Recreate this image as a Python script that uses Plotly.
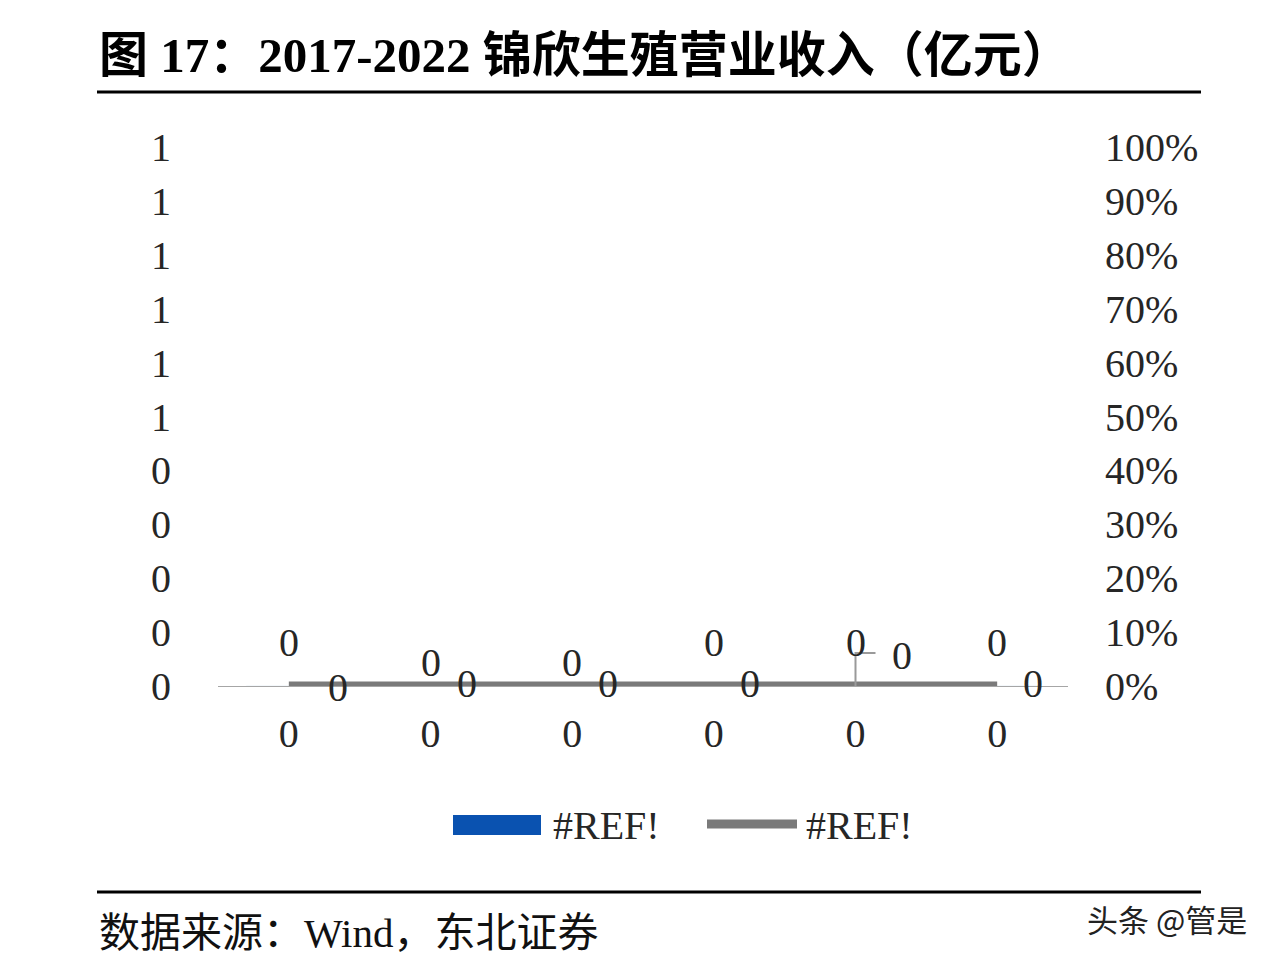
import plotly.graph_objects as go

# ---------------- data ----------------
title_text = "图 17：2017-2022 锦欣生殖营业收入（亿元）"
source_text = "数据来源：Wind，东北证券"
watermark_text = "头条 @管是"
categories = ["0", "0", "0", "0", "0", "0"]          # category labels shown as 0
series_names = ["#REF!", "#REF!"]
revenue = [0, 0, 0, 0, 0, 0]                           # bar series (亿元)
growth = [0, 0, 0, 0, 0, 0]                            # line series (%)
left_tick_values = [0, 0.1, 0.2, 0.3, 0.4, 0.5, 0.6, 0.7, 0.8, 0.9, 1.0]
left_tick_labels = ["0", "0", "0", "0", "0", "1", "1", "1", "1", "1", "1"]
right_tick_values = [0, 0.1, 0.2, 0.3, 0.4, 0.5, 0.6, 0.7, 0.8, 0.9, 1.0]
right_tick_labels = ["0%", "10%", "20%", "30%", "40%", "50%", "60%", "70%", "80%", "90%", "100%"]

# ---------------- styles ----------------
W, H = 1260, 948
OFF = 8  # default body margin of the page
SERIF = "Liberation Serif, Times New Roman, Noto Sans CJK SC"
TXT = "#262626"
BLUE = "#0A52B0"
GREY = "#7A7A7A"
bar_label_dy = [44, 24, 24, 44, 44, 44]
line_label_dx = [49, 36, 36, 36, 46, 36]
line_label_dy = [-1, 3, 3, 3, 31, 3]


def px(X):
    return (X - OFF) / W


def py(Y):
    return 1 - (Y - OFF) / H


xs = list(range(len(categories)))

fig = go.Figure()
fig.add_trace(go.Bar(x=xs, y=revenue, name=series_names[0], marker_color=BLUE,
                     showlegend=False, yaxis="y"))
fig.add_trace(go.Scatter(x=xs, y=growth, name=series_names[1], mode="lines",
                         line=dict(color=GREY, width=9), showlegend=False, yaxis="y2"))

annotations = []
# bar data labels
for i, v in enumerate(revenue):
    annotations.append(dict(x=xs[i], y=v, xref="x", yref="y", text=f"{v:.0f}",
                            showarrow=False, yshift=bar_label_dy[i],
                            font=dict(family=SERIF, size=40, color=TXT)))
# line data labels
for i, v in enumerate(growth):
    annotations.append(dict(x=xs[i], y=v, xref="x", yref="y2", text=f"{v:.0f}",
                            showarrow=False, xshift=line_label_dx[i], yshift=line_label_dy[i],
                            font=dict(family=SERIF, size=40, color=TXT)))

# title / source / watermark
annotations.append(dict(x=px(97), y=py(55), xref="paper", yref="paper", xanchor="left",
                        yanchor="middle", text=f"<b>{title_text}</b>", showarrow=False,
                        font=dict(family=SERIF, size=49, color="#000000")))
annotations.append(dict(x=px(97), y=py(933), xref="paper", yref="paper", xanchor="left",
                        yanchor="middle", text=source_text, showarrow=False,
                        font=dict(family=SERIF, size=41, color="#111111")))
annotations.append(dict(x=px(1249), y=py(918), xref="paper", yref="paper", xanchor="right",
                        yanchor="middle", text=watermark_text, showarrow=False,
                        font=dict(family="Noto Sans CJK SC", size=31, color="#222222")))
# legend texts
annotations.append(dict(x=px(551), y=py(825), xref="paper", yref="paper", xanchor="left",
                        yanchor="middle", text=series_names[0], showarrow=False,
                        font=dict(family=SERIF, size=40, color=TXT)))
annotations.append(dict(x=px(804), y=py(825), xref="paper", yref="paper", xanchor="left",
                        yanchor="middle", text=series_names[1], showarrow=False,
                        font=dict(family=SERIF, size=40, color=TXT)))

shapes = [
    # title rule and source rule
    dict(type="line", xref="paper", yref="paper", x0=px(97), x1=px(1201), y0=py(92), y1=py(92),
         line=dict(color="#000000", width=3)),
    dict(type="line", xref="paper", yref="paper", x0=px(97), x1=px(1201), y0=py(892), y1=py(892),
         line=dict(color="#000000", width=3)),
    # legend symbols
    dict(type="rect", xref="paper", yref="paper", x0=px(453), x1=px(541), y0=py(835), y1=py(815),
         fillcolor=BLUE, line=dict(width=0)),
    dict(type="line", xref="paper", yref="paper", x0=px(707), x1=px(797), y0=py(824), y1=py(824),
         line=dict(color=GREY, width=9)),
    # leader line of the shifted data label
    dict(type="path", xref="x", yref="y2", xsizemode="pixel", ysizemode="pixel",
         xanchor=xs[4], yanchor=growth[4], path="M 0,0 L 0,33 L 20,33",
         line=dict(color="#9A9A9A", width=2)),
]

fig.update_layout(
    width=W, height=H,
    margin=dict(l=0, r=0, t=0, b=0, pad=0, autoexpand=False),
    paper_bgcolor="white", plot_bgcolor="white",
    bargap=0.4,
    xaxis=dict(domain=[px(218), px(1068)], range=[-0.5, 5.5], tickmode="array",
               tickvals=xs, ticktext=categories, showgrid=False, zeroline=False,
               showline=True, linecolor="#A6A6A6", linewidth=1, ticks="", automargin=False,
               ticklabelstandoff=12, tickfont=dict(family=SERIF, size=40, color=TXT)),
    yaxis=dict(domain=[py(686), py(147)], range=[0, 1], tickmode="array",
               tickvals=left_tick_values, ticktext=left_tick_labels, showgrid=False,
               zeroline=False, showline=False, ticks="", ticklabelstandoff=46, automargin=False,
               tickfont=dict(family=SERIF, size=40, color=TXT)),
    yaxis2=dict(domain=[py(686), py(147)], range=[0, 1], overlaying="y", side="right",
                anchor="x", tickmode="array", tickvals=right_tick_values,
                ticktext=right_tick_labels, showgrid=False, zeroline=False, automargin=False,
                showline=False, ticks="", ticklabelstandoff=36,
                tickfont=dict(family=SERIF, size=40, color=TXT)),
    annotations=annotations,
    shapes=shapes,
)

fig.write_html("out.html")
